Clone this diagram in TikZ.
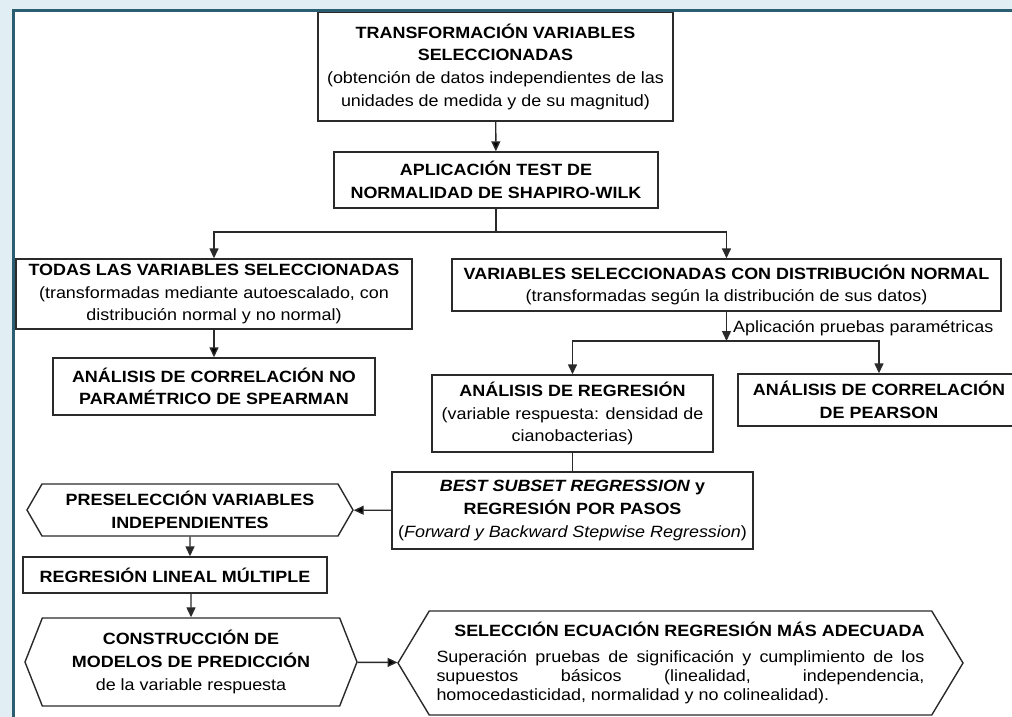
\documentclass[tikz,border=0pt]{standalone}
\usepackage{fontspec}
\setmainfont{Liberation Sans}[FakeStretch=1.1]
\usetikzlibrary{arrows.meta}
\usetikzlibrary{shapes.symbols}
\definecolor{fondo}{HTML}{E1EEF4}
\definecolor{marco}{HTML}{2C5E72}
\definecolor{linea}{HTML}{2A2A2A}

\begin{document}
\begin{tikzpicture}[x=1pt,y=-1pt,>={Triangle[length=10pt,width=9pt]},
                    every node/.style={font=\fontsize{16.3}{22.6}\selectfont},
                    box/.style={draw=linea,line width=1.4pt,fill=white,align=center,inner sep=0pt},
                    hexa/.style={box,signal,signal to=east and west},
                    con/.style={draw=linea,line width=1.4pt}]
  \useasboundingbox (0,0) rectangle (1012,717);
  \clip (0,0) rectangle (1012,717);
  \fill[fondo] (0,0) rectangle (1012,717);
  \fill[white] (14,11) rectangle (1040,740);
  \draw[marco,line width=3pt] (13.5,740) -- (13.5,10.5) -- (1040,10.5);

  \node[box,minimum width=355pt,minimum height=108.5pt] (trans) at (495.5,66.75)
    {\textbf{TRANSFORMACIÓN VARIABLES}\\\textbf{SELECCIONADAS}\\(obtención de datos independientes de las\\unidades de medida y de su magnitud)};
  \node[box,minimum width=324pt,minimum height=56pt] (aplic) at (496,180)
    {\textbf{APLICACIÓN TEST DE}\\\textbf{NORMALIDAD DE SHAPIRO-WILK}};
  \node[box,minimum width=396pt,minimum height=70pt] (todas) at (214,294)
    {\textbf{TODAS LAS VARIABLES SELECCIONADAS}\\(transformadas mediante autoescalado, con\\distribución normal y no normal)};
  \node[box,minimum width=322pt,minimum height=57pt] (spear) at (214,386.5)
    {\textbf{ANÁLISIS DE CORRELACIÓN NO}\\\textbf{PARAMÉTRICO DE SPEARMAN}};
  \node[box,minimum width=549pt,minimum height=52pt] (normal) at (726.5,285)
    {\textbf{VARIABLES SELECCIONADAS CON DISTRIBUCIÓN NORMAL}\\(transformadas según la distribución de sus datos)};
  \node[box,minimum width=281pt,minimum height=77pt] (regr) at (572.5,413.5)
    {\textbf{ANÁLISIS DE REGRESIÓN}\\(variable respuesta: densidad de\\cianobacterias)};
  \node[box,minimum width=282pt,minimum height=52pt] (pear) at (879,400)
    {\textbf{ANÁLISIS DE CORRELACIÓN}\\\textbf{DE PEARSON}};
  \node[box,minimum width=361pt,minimum height=77pt] (best) at (572.5,510.5)
    {\textbf{\textit{BEST SUBSET REGRESSION} y}\\\textbf{REGRESIÓN POR PASOS}\\(\textit{Forward y Backward Stepwise Regression})};
  \node[hexa,minimum width=326pt,minimum height=52pt,signal pointer angle=120] (presel) at (190,510)
    {\textbf{PRESELECCIÓN VARIABLES}\\\textbf{INDEPENDIENTES}};
  \node[box,minimum width=304pt,minimum height=36pt] (lineal) at (175,575)
    {\textbf{REGRESIÓN LINEAL MÚLTIPLE}};
  \node[hexa,minimum width=332pt,minimum height=88pt,signal pointer angle=137] (constr) at (191,662)
    {\textbf{CONSTRUCCIÓN DE}\\\textbf{MODELOS DE PREDICCIÓN}\\de la variable respuesta};
  \node[hexa,minimum width=565pt,minimum height=104pt,signal pointer angle=118,
        text width=488pt,align=justify] (selec) at (680.5,663)
    {\hfill\textbf{SELECCIÓN ECUACIÓN REGRESIÓN MÁS ADECUADA}\hfill\par\vspace{7pt}
     \fontsize{16.3}{19}\selectfont
     Superación pruebas de significación y cumplimiento de los\linebreak
     supuestos básicos (linealidad, independencia,\linebreak
     homocedasticidad, normalidad y no colinealidad).\par};

  \coordinate (split) at (496,232);
  \coordinate (split2) at (726.5,341);

  \path[con,->]
    (trans) edge (aplic)
    (todas) edge (spear)
    (best) edge (presel)
    (constr) edge (selec);
  \draw[con] (aplic) -- (split);
  \draw[con,->] (split) -| (todas);
  \draw[con,->] (split) -| (normal);
  \draw[con,->] (normal) -- (split2)
    node[pos=.57,anchor=west,xshift=6pt,inner sep=0pt] {Aplicación pruebas paramétricas};
  \draw[con,->] (split2) -| (regr);
  \draw[con,->] (split2) -| (pear);
  \draw[con] (regr) -- (best);
  \draw[con,->] (presel) -- (presel |- lineal.north);
  \draw[con,->] (constr |- lineal.south) -- (constr);
\end{tikzpicture}
\end{document}
